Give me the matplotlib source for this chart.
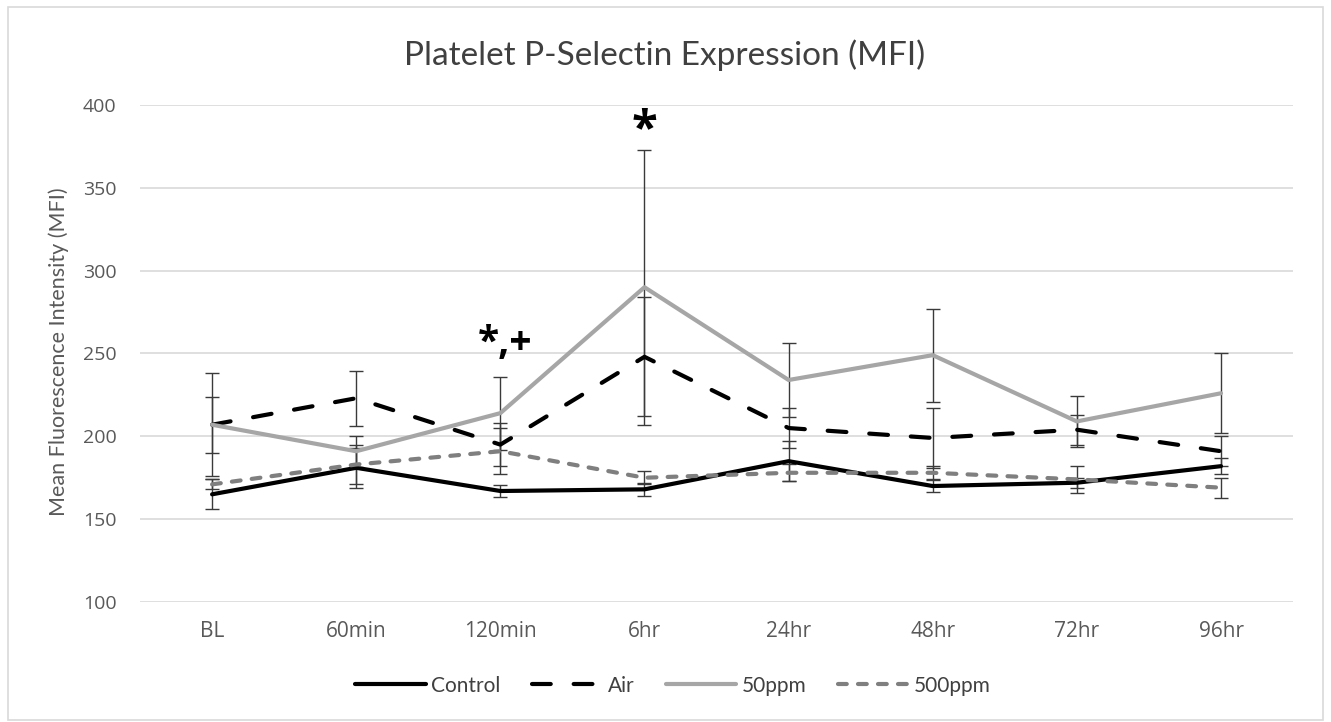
import numpy as np
import matplotlib.pyplot as plt
from matplotlib.patches import Rectangle

plt.rcParams["font.family"] = ["Open Sans", "DejaVu Sans"]

timepoints = ["BL", "60min", "120min", "6hr", "24hr", "48hr", "72hr", "96hr"]

control = [165, 181, 167, 168, 185, 170, 172, 182]
control_err = [9, 12, 3.5, 4, 12, 3.5, 3, 5]

air = [207, 223, 195, 248, 205, 199, 204, 191]
air_err = [17, 16.5, 13, 36, 12, 18, 9, 9]

ppm50 = [207, 191, 214, 290, 234, 249, 209, 226]
ppm50_err = [31, 9.5, 22, 83, 22.5, 28, 15.5, 24]

ppm500 = [171, 183, 191, 175, 178, 178, 174, 169]
ppm500_err = [3, 12, 14, 4, 5, 4, 8, 6]

series = [
    ("Control", control, control_err, "#000000", None),
    ("Air", air, air_err, "#000000", (4.5, 5.5)),
    ("50ppm", ppm50, ppm50_err, "#a6a6a6", None),
    ("500ppm", ppm500, ppm500_err, "#7f7f7f", (2.1, 2.7)),
]

fig = plt.figure(figsize=(13.31, 7.22), dpi=100)
ax = fig.add_axes([0.1052, 0.1662, 0.8663, 0.6884])

x = np.arange(len(timepoints))
for name, vals, err, color, dashes in series:
    ax.errorbar(x, vals, yerr=err, fmt="none", ecolor="#3a3a3a",
                elinewidth=1, capsize=5, capthick=1, zorder=3)
    line, = ax.plot(x, vals, color=color, lw=3, label=name,
                    solid_capstyle="round", dash_capstyle="round", zorder=4)
    if dashes is not None:
        line.set_dashes(dashes)

ax.set_xlim(-0.5, len(timepoints) - 0.5)
ax.set_ylim(100, 400)
ax.set_yticks(np.arange(100, 401, 50))
ax.set_xticks(x)
ax.set_xticklabels(timepoints)
ax.grid(axis="y", color="#d9d9d9", lw=1.2, zorder=0)
ax.set_axisbelow(True)
for s in ax.spines.values():
    s.set_visible(False)
ax.tick_params(axis="both", length=0, labelcolor="#595959")
ax.tick_params(axis="x", pad=14, labelsize=15)
ax.tick_params(axis="y", pad=17, labelsize=14)

fig.text(59 / 1331, 1 - 352 / 722, "Mean Fluorescence Intensity (MFI)",
         rotation=90, ha="center", va="center", fontsize=15.5,
         color="#595959", family=["Lato", "DejaVu Sans"])

fig.text(665 / 1331, 1 - 55 / 722, "Platelet P-Selectin Expression (MFI)",
         ha="center", va="center", fontsize=24, color="#404040",
         family=["Lato", "DejaVu Sans"])

ax.text(3, 370, "*", ha="center", va="bottom", fontsize=34, fontweight="bold")
ax.text(2.03, 244, "*,+", ha="center", va="bottom", fontsize=28,
        fontweight="bold")

leg = ax.legend(loc="center", bbox_to_anchor=(0.462, -0.1685), ncol=4,
                frameon=False, handlelength=3.4, columnspacing=1.5,
                handletextpad=0.25, labelcolor="#404040",
                prop={"family": ["Lato", "DejaVu Sans"], "size": 15})

fig.patches.append(Rectangle((8 / 1331, 2 / 722), 1315 / 1331, 713 / 722,
                             transform=fig.transFigure, fill=False,
                             edgecolor="#d9d9d9", lw=1.2))

fig.savefig("out.png", dpi=100)
